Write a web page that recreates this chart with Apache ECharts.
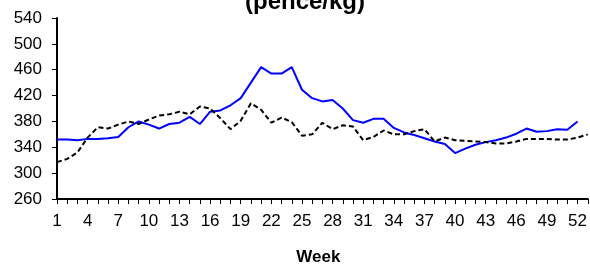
<!DOCTYPE html>
<html>
<head>
<meta charset="utf-8">
<script src="https://cdn.jsdelivr.net/npm/echarts@6/dist/echarts.min.js"></script>
<style>
html,body{margin:0;padding:0;background:#fff;}
#chart{width:590px;height:271px;}
</style>
</head>
<body>
<div id="chart"></div>
<script>
var weeks = [];
for (var i = 1; i <= 53; i++) weeks.push(String(i));

var blueSeries = [352,352,351,353,353,354,356,371,380,375,369,376,378,387,376,395,397,405,416,440,
  464,454,454,464,429,416,411,413,400,382,378,384,384,370,363,359,354,349,345,331,
  338,344,348,351,355,361,369,364,365,368,367,380];

var blackSeries = [317,322,332,355,371,369,375,380,376,383,389,391,395,391,403,400,385,368,381,408,
  398,378,386,379,358,360,378,368,374,372,351,356,366,360,360,365,368,349,355,351,
  350,349,348,346,346,349,353,353,353,352,352,355,360];

var yTicks = {min: 260, max: 540, interval: 40};
var titleText = '(pence/kg)';
var xName = 'Week';

var chart = echarts.init(document.getElementById('chart'));
var font = 'Arial, "Liberation Sans", sans-serif';
chart.setOption({
  animation: false,
  backgroundColor: '#fff',
  graphic: [{
    type: 'text',
    x: 305, y: 2,
    style: {
      text: titleText,
      fill: '#000',
      font: 'bold 24px Arial, "Liberation Sans", sans-serif',
      textAlign: 'center',
      textVerticalAlign: 'middle'
    }
  }],
  grid: {left: 57, right: 0, top: 18, bottom: 68, containLabel: false},
  xAxis: {
    type: 'category',
    data: weeks,
    boundaryGap: false,
    name: xName,
    nameLocation: 'middle',
    nameGap: 50,
    nameTextStyle: {fontFamily: font, fontSize: 17, fontWeight: 'bold', color: '#000', padding: [0, 8, 0, 0]},
    axisLine: {lineStyle: {color: '#000', width: 2}},
    axisTick: {show: true, interval: 0, length: 5, inside: false, lineStyle: {color: '#000', width: 1}},
    axisLabel: {interval: 2, margin: 14, fontFamily: font, fontSize: 17, color: '#000'},
    splitLine: {show: false}
  },
  yAxis: {
    type: 'value',
    min: yTicks.min, max: yTicks.max, interval: yTicks.interval,
    axisLine: {show: true, lineStyle: {color: '#000', width: 2}},
    axisTick: {show: true, length: 5, inside: false, lineStyle: {color: '#000', width: 1}},
    axisLabel: {margin: 15, fontFamily: font, fontSize: 17, color: '#000'},
    splitLine: {show: false}
  },
  series: [{
    type: 'line',
    data: blueSeries,
    showSymbol: false,
    symbol: 'none',
    lineStyle: {color: '#0000ff', width: 2}
  }, {
    type: 'line',
    data: blackSeries,
    showSymbol: false,
    symbol: 'none',
    lineStyle: {color: '#000', width: 2, type: [5, 3]}
  }]
});
</script>
</body>
</html>
